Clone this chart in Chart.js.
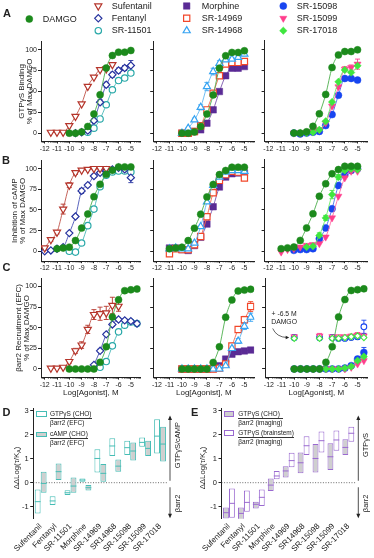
<!DOCTYPE html>
<html>
<head>
<meta charset="utf-8">
<title>Agonist bias at MOR</title>
<script src="https://cdn.jsdelivr.net/npm/chart.js@4.4.0/dist/chart.umd.min.js"></script>
<style>
  html, body { margin: 0; padding: 0; background: #fff; }
  #fig { position: relative; width: 374px; height: 558px; overflow: hidden;
         font-family: "Liberation Sans", Arial, sans-serif; color: #222; }
  #fig canvas { position: absolute; }
  .txt { position: absolute; white-space: nowrap; line-height: 1; }
  .leg { font-size: 9px; }
  .letter { font-weight: bold; font-size: 11px; line-height: 11px; }
  .frac { position: absolute; font-size: 6.5px; line-height: 8px; white-space: nowrap; }
  .frac .n { border-bottom: 0.7px solid #333; }
  .box { position: absolute; box-sizing: border-box; }
</style>
</head>
<body>
<div id="fig">
  <div class="txt letter" style="left:3px;top:8px">A</div>
  <div class="txt letter" style="left:2px;top:154.7px">B</div>
  <div class="txt letter" style="left:2.5px;top:261.5px">C</div>
  <div class="txt letter" style="left:2.5px;top:407px">D</div>
  <div class="txt letter" style="left:191px;top:407px">E</div>

  <div class="txt leg" style="left:42.7px;top:14.6px">DAMGO</div>
  <div class="txt leg" style="left:111.7px;top:1.6px">Sufentanil</div>
  <div class="txt leg" style="left:111.7px;top:13.9px">Fentanyl</div>
  <div class="txt leg" style="left:111.7px;top:26.3px">SR-11501</div>
  <div class="txt leg" style="left:201.7px;top:1.6px">Morphine</div>
  <div class="txt leg" style="left:201.7px;top:13.9px">SR-14969</div>
  <div class="txt leg" style="left:201.7px;top:26.3px">SR-14968</div>
  <div class="txt leg" style="left:296.7px;top:1.6px">SR-15098</div>
  <div class="txt leg" style="left:296.7px;top:13.9px">SR-15099</div>
  <div class="txt leg" style="left:296.7px;top:26.3px">SR-17018</div>

  <!-- D legend -->
  <div class="box" style="left:36px;top:411px;width:10.7px;height:5.7px;border:1px solid #45bdb5;background:#fff"></div>
  <div class="frac" style="left:50px;top:410px"><div class="n">GTPγS (CHO)</div><div>βarr2 (EFC)</div></div>
  <div class="box" style="left:36px;top:431.7px;width:10.7px;height:5.7px;border:1px solid #45bdb5;background:#cfcfcf"></div>
  <div class="frac" style="left:50px;top:430px"><div class="n">cAMP (CHO)</div><div>βarr2 (EFC)</div></div>

  <!-- E legend -->
  <div class="box" style="left:224.3px;top:410.7px;width:10px;height:6px;border:1px solid #9a6ad0;background:#cfcfcf"></div>
  <div class="frac" style="left:238.3px;top:410px"><div class="n">GTPγS (CHO)</div><div>βarr2 (imaging)</div></div>
  <div class="box" style="left:224.3px;top:430px;width:10px;height:6px;border:1px solid #9a6ad0;background:#fff"></div>
  <div class="frac" style="left:238.3px;top:429px"><div class="n">GTPγS (brainstem)</div><div>βarr2 (imaging)</div></div>
</div>

<script>
// ---------- data (log molar doses and % of max DAMGO) ----------
// row A: [35S]GTPγS binding
var doseA_std   = [-10, -9.5, -9, -8.5, -8, -7.5, -7, -6.5, -6, -5.5, -5];
var doseA_suf   = [-11.5, -11, -10.5, -10, -9.5, -9, -8.5, -8, -7.5, -7, -6.5];
var doseA_fen   = [-9.5, -9, -8.5, -8, -7.5, -7, -6.5, -6, -5.5, -5];
var doseA_11501 = [-8.5, -8, -7.5, -7, -6.5, -6, -5.5, -5];
var gtpDamgo = [0, 0, 1.5, 8, 23, 46, 78, 93, 97, 97, 99];
var gtpSuf   = [1, 1, 1, 9, 20, 35, 56, 67, 76, 77, 82];
var gtpFen   = [0, 1, 3, 15, 37, 58, 70, 75, 78, 81];
var gtp11501 = [1, 6, 17, 34, 52, 63, 66, 72];
var gtpMorph = [0, 0, 2, 4, 12, 28, 50, 69, 78, 78, 80];
var gtp14969 = [0, 0, 2, 9, 28, 48, 69, 83, 85, 85, 86];
var gtp14968 = [0, 6, 16, 31, 56, 74, 84, 88, 89, 91, 95];
var gtp15098 = [0, -1, 0, 1, 2, 9, 22, 45, 65, 65, 63];
var gtp15099 = [0, 0, 1, 2, 4, 12, 32, 55, 76, 78, 82];
var gtp17018 = [0, 0, 0, 1, 4, 14, 37, 61, 75, 72, 80];
var errA_fen   = [0, 0, 0, 2, 3, 3, 3, 3, 3, 6];
var errA_14968 = [0, 1, 2, 3, 5, 4, 3, 2, 2, 2, 2];
var errA_15099 = [0, 0, 0, 0, 0, 1, 2, 2, 3, 3, 6];

// row B: inhibition of cAMP
var doseB_std = [-11, -10.5, -10, -9.5, -9, -8.5, -8, -7.5, -7, -6.5, -6, -5.5, -5];
var doseB_10  = [-10, -9.5, -9, -8.5, -8, -7.5, -7, -6.5, -6, -5.5, -5];
var doseB_9   = [-9, -8.5, -8, -7.5, -7, -6.5, -6, -5.5, -5];
var doseB_suf = [-12, -11.5, -11, -10.5, -10, -9.5, -9, -8.5, -8, -7.5, -7];
var doseB_fen = [-12, -11.5, -11, -10.5, -10, -9.5, -9, -8.5, -8, -7.5, -7, -6.5, -6, -5.5, -5];
var campDamgo = [3, 4, 5, 13, 28, 45, 66, 81, 93, 98, 102, 102, 102];
var campSuf   = [4, 14, 23, 51, 80, 95, 98, 99, 100, 100, 100];
var campFen   = [0, 1, 3, 5, 22, 42, 73, 80, 91, 95, 98, 99, 101, 99, 89];
var camp11501 = [0, -1, 10, 31, 51, 78, 92, 96, 97, 97, 96];
var campMorph = [4, 4, 2, 1, 7, 17, 33, 54, 78, 90, 94, 95, 95];
var camp14969 = [-3, 3, 2, 2, 8, 18, 42, 71, 86, 93, 97, 96, 89];
var camp14968 = [3, 4, 3, 3, 10, 30, 60, 80, 90, 96, 98, 98, 97];
var camp15098 = [1, 2, 2, 3, 15, 28, 51, 79, 92, 97, 99];
var camp15099 = [-1, 2, 3, 5, 7, 8, 9, 17, 40, 66, 88, 96, 96];
var camp17018 = [5, 6, 19, 40, 68, 89, 97, 99, 98];
var errB_suf = [1, 2, 2, 6, 3, 2, 1, 1, 1, 1, 1];
var errB_fen = [0, 0, 0, 0, 1, 2, 3, 2, 2, 2, 2, 2, 2, 2, 6];
var errB_17018 = [0, 0, 3, 3, 5, 3, 2, 2, 2];

// row C: βarr2 recruitment (EFC)
var doseC_std   = [-10, -9.5, -9, -8.5, -8, -7.5, -7, -6.5, -6, -5.5, -5, -4.5];
var doseC_suf   = [-11.5, -11, -10.5, -10, -9.5, -9, -8.5, -8, -7.5, -7, -6.5, -6];
var doseC_fen   = [-8, -7.5, -7, -6.5, -6, -5.5, -5, -4.5];
var doseC_11501 = [-7.5, -7, -6.5, -6, -5.5, -5, -4.5];
var doseC_plus  = [-10, -8, -7, -6.5, -6, -5.5, -5, -4.5];
var barrDamgo = [0, 0, 0, 0, 0, 8, 27, 63, 84, 95, 96, 97];
var barrSuf   = [1, 1, 2, 9, 22, 29, 48, 66, 67, 68, 77, 76];
var barrFen   = [5, 22, 42, 54, 60, 59, 58, 55];
var barr11501 = [2, 9, 28, 45, 53, 57, 55];
var barrMorph = [0, 0, 0, 0, 0, 0.5, 4, 12, 18, 21, 22, 23];
var barr14969 = [0, 0, 0, 0, 0, 0, 1, 6, 28, 48, 60, 76];
var barr14968 = [0, 0, 0, 0, 0, 0, 0, 4, 25, 34, 52, 63];
var barr15098 = [0, 0, 0, 0, 0, 0, 0, 0, 1, 4, 12, 20];
var barr15099 = [0, 0, 0, 0, 0, 0, 0, 0, 0, 2, 6, 10];
var barr17018 = [0, 0, 0, 0, 0, 0, 0, 0, 1, 3, 10, 15];
var barrPlus15098 = [38, 38, 38, 37, 37, 38, 39, 51];
var barrPlus15099 = [39, 40, 39, 39, 39, 40, 41, 40];
var barrPlus17018 = [37, 37, 37, 37, 38, 39, 40, 38];
var errC_suf   = [0, 0, 0, 2, 3, 4, 5, 6, 8, 8, 10, 6];
var errC_fen   = [1, 2, 2, 2, 2, 2, 2, 2];
var errC_14969 = [0, 0, 0, 0, 0, 0, 0, 1, 3, 3, 4, 6];
var errC_14968 = [0, 0, 0, 0, 0, 0, 0, 0, 3, 3, 4, 5];
var errC_15098 = [0, 0, 0, 0, 0, 0, 0, 0, 1, 2, 3, 6];
var errC_plus15098 = [3, 3, 3, 2, 2, 2, 3, 8];
var errC_plus15099 = [2, 3, 2, 2, 2, 2, 3, 3];

var xTickVals = [-12, -11, -10, -9, -8, -7, -6, -5];
var yTickVals = [0, 25, 50, 75, 100];

// panels D/E: ΔΔLog(τ/KA) ranges (low, high) and centre line
var ratioCats = ['Sufentanil', 'Fentanyl', 'SR-11501', 'Morphine', 'SR-14969', 'SR14968', 'SR-15098', 'SR-15099', 'SR-17018'];
var dGtpLow   = [-1.28, -0.93, -0.51, 0.04, 0.42, 1.11, 1.15, 1.50, 1.22];
var dGtpHigh  = [-0.28, -0.56, -0.31, 0.18, 1.39, 1.85, 1.75, 1.88, 2.64];
var dGtpMid   = [-0.79, -0.76, -0.42, 0.11, 1.01, 1.53, 1.46, 1.68, 1.94];
var dCampLow  = [-0.42, 0.11, -0.42, -0.33, 0.04, 0.46, 0.92, 1.11, 0.88];
var dCampHigh = [0.46, 0.80, 0.22, -0.10, 0.78, 0.97, 1.68, 1.75, 2.33];
var dCampMid  = [-0.03, 0.46, -0.14, -0.21, 0.39, 0.69, 1.32, 1.43, 1.61];
var eChoLow   = [-1.49, -1.56, -1.07, -0.35, 0.22, 0.39, 0.42, 0.53, 1.15];
var eChoHigh  = [-1.03, -1.03, -0.79, 0.18, 0.69, 1.26, 1.61, 1.64, 1.81];
var eChoMid   = [-1.25, -1.28, -0.90, -0.10, 0.49, 0.83, 1.01, 1.08, 1.47];
var eBrLow    = [-1.46, -1.21, -0.97, 0.14, 0.64, 1.15, 1.26, 1.33, 1.71];
var eBrHigh   = [-0.24, -0.33, -0.28, 0.49, 1.25, 1.94, 2.13, 2.17, 2.33];
var eBrMid    = [-0.86, -0.82, -0.61, 0.28, 0.92, 1.54, 1.75, 1.78, 2.06];

// ---------- styles ----------
var FONT = '"Liberation Sans", Arial, sans-serif';
var INK = '#222';
var STY = {
  damgo:   { color: '#1c8a1c', line: '#4caf4c', style: 'circle',   fill: true,  r: 3.5, order: 0 },
  suf:     { color: '#b5352b', line: '#c0544a', style: 'triangle', rot: 180, fill: false, r: 4.1, order: 1 },
  fen:     { color: '#27339f', line: '#4652b5', style: 'rectRot',  fill: false, r: 3.6, order: 2 },
  sr11501: { color: '#2aa9a9', line: '#47b8b8', style: 'circle',   fill: false, r: 3.2, order: 3 },
  morph:   { color: '#5a2b95', line: '#7a55ad', style: 'rect',     fill: true,  r: 4.6, order: 3 },
  sr14969: { color: '#f2472a', line: '#f26a52', style: 'rect',     fill: false, r: 4.4, order: 2 },
  sr14968: { color: '#35a3f2', line: '#5fb6f2', style: 'triangle', fill: false, r: 4.1, order: 1 },
  sr15098: { color: '#1745f0', line: '#4a6ff0', style: 'circle',   fill: true,  r: 3.5, order: 3 },
  sr15099: { color: '#ff3d8c', line: '#ff6aa6', style: 'triangle', rot: 180, fill: true, r: 4.1, order: 2 },
  sr17018: { color: '#3fe63f', line: '#6aeb6a', style: 'rectRot',  fill: true,  r: 3.7, order: 1 }
};

var fig = document.getElementById('fig');
function addCanvas(left, top, w, h) {
  var c = document.createElement('canvas');
  c.width = w; c.height = h;
  c.style.left = left + 'px'; c.style.top = top + 'px';
  c.style.width = w + 'px'; c.style.height = h + 'px';
  fig.insertBefore(c, fig.firstChild);
  return c;
}

function series(key, xs, ys, extra) {
  var s = STY[key];
  var d = {
    label: key,
    data: xs.map(function (x, i) { return { x: x, y: ys[i] }; }),
    showLine: true,
    borderColor: s.line,
    borderWidth: 0.9,
    cubicInterpolationMode: 'monotone',
    pointStyle: s.style,
    pointRotation: s.rot || 0,
    pointRadius: s.r,
    pointBorderColor: s.color,
    pointBackgroundColor: s.fill ? s.color : '#fff',
    pointBorderWidth: s.fill ? 0.5 : 1.2,
    order: s.order
  };
  return Object.assign(d, extra || {});
}

// ---------- legend markers (top) ----------
function drawMarker(ctx, s, x, y) {
  var r = s.r;
  ctx.save();
  ctx.translate(x, y);
  ctx.rotate((s.rot || 0) * Math.PI / 180);
  ctx.beginPath();
  if (s.style === 'circle') {
    ctx.arc(0, 0, r, 0, Math.PI * 2);
  } else if (s.style === 'rect') {
    var h = r * Math.SQRT1_2;
    ctx.rect(-h, -h, 2 * h, 2 * h);
  } else if (s.style === 'rectRot') {
    ctx.moveTo(0, -r); ctx.lineTo(r, 0); ctx.lineTo(0, r); ctx.lineTo(-r, 0); ctx.closePath();
  } else {
    for (var k = 0; k < 3; k++) {
      var a = k * 2 * Math.PI / 3;
      if (k === 0) ctx.moveTo(Math.sin(a) * r, -Math.cos(a) * r);
      else ctx.lineTo(Math.sin(a) * r, -Math.cos(a) * r);
    }
    ctx.closePath();
  }
  ctx.fillStyle = s.fill ? s.color : '#fff';
  ctx.fill();
  ctx.strokeStyle = s.color;
  ctx.lineWidth = s.fill ? 0.5 : 1.2;
  ctx.stroke();
  ctx.restore();
}
var legCanvas = addCanvas(0, 0, 374, 36);
var lctx = legCanvas.getContext('2d');
[['damgo', 29.3, 19],
 ['suf', 98.3, 6], ['fen', 98.3, 18.3], ['sr11501', 98.3, 30.7],
 ['morph', 186.7, 6], ['sr14969', 186.7, 18.3], ['sr14968', 186.7, 30.7],
 ['sr15098', 283.3, 6], ['sr15099', 283.3, 18.3], ['sr17018', 283.3, 30.7]
].forEach(function (m) { drawMarker(lctx, STY[m[0]], m[1], m[2]); });

// ---------- plugins ----------
var minorTicks = {
  id: 'minorTicks',
  afterDraw: function (chart) {
    var x = chart.scales.x, ctx = chart.ctx;
    ctx.save();
    ctx.strokeStyle = INK;
    ctx.lineWidth = 0.6;
    ctx.beginPath();
    for (var d = -13; d <= -4; d++) {
      for (var k = 2; k <= 9; k++) {
        var v = d + Math.log10(k);
        if (v < x.min || v > x.max) continue;
        var px = x.getPixelForValue(v);
        ctx.moveTo(px, x.top);
        ctx.lineTo(px, x.top + 1.3);
      }
    }
    ctx.stroke();
    ctx.restore();
  }
};

// SEM whiskers for datasets that carry an errs array
var errorBars = {
  id: 'errorBars',
  beforeDatasetsDraw: function (chart) {
    var ctx = chart.ctx, y = chart.scales.y;
    chart.data.datasets.forEach(function (d, i) {
      if (!d.errs) return;
      var meta = chart.getDatasetMeta(i);
      ctx.save();
      ctx.strokeStyle = d.pointBorderColor;
      ctx.lineWidth = 0.9;
      meta.data.forEach(function (pt, j) {
        var e = d.errs[j];
        if (!e) return;
        var v = d.data[j].y;
        var yt = y.getPixelForValue(v + e), yb = y.getPixelForValue(v - e);
        ctx.beginPath();
        ctx.moveTo(pt.x, yt); ctx.lineTo(pt.x, yb);
        ctx.moveTo(pt.x - 2.5, yt); ctx.lineTo(pt.x + 2.5, yt);
        ctx.moveTo(pt.x - 2.5, yb); ctx.lineTo(pt.x + 2.5, yb);
        ctx.stroke();
      });
      ctx.restore();
    });
  }
};

var damgoNote = {
  id: 'damgoNote',
  afterDraw: function (chart) {
    var ctx = chart.ctx, x = chart.scales.x, y = chart.scales.y;
    ctx.save();
    ctx.fillStyle = INK;
    ctx.strokeStyle = INK;
    ctx.font = '6.8px ' + FONT;
    ctx.textAlign = 'center';
    ctx.textBaseline = 'middle';
    ctx.fillText('+ -6.5 M', x.getPixelForValue(-10.8), y.getPixelForValue(66));
    ctx.fillText('DAMGO', x.getPixelForValue(-10.8), y.getPixelForValue(57));
    var x0 = x.getPixelForValue(-11.7), y0 = y.getPixelForValue(49);
    var cx = x.getPixelForValue(-11.4), cy = y.getPixelForValue(38.5);
    var x1 = x.getPixelForValue(-10.4), y1 = y.getPixelForValue(38);
    ctx.lineWidth = 0.7;
    ctx.beginPath();
    ctx.moveTo(x0, y0);
    ctx.quadraticCurveTo(cx, cy, x1 - 2, y1);
    ctx.stroke();
    ctx.beginPath();
    ctx.moveTo(x1, y1);
    ctx.lineTo(x1 - 3.5, y1 - 1.8);
    ctx.lineTo(x1 - 3.5, y1 + 1.8);
    ctx.closePath();
    ctx.fill();
    ctx.restore();
  }
};

// ---------- dose-response panels ----------
var ROWS = {
  A: { top: 36, height: 120, aTop: 40, aBottom: 141.5, yMin: -10, tpad: 17.5, xTitle: false,
       title: ['GTPγS Binding', '% of Max DAMGO'] },
  B: { top: 155, height: 118, aTop: 157.5, aBottom: 261.2, yMin: -12, tpad: 11, xTitle: false,
       title: ['Inhibition of cAMP', '% of Max DAMGO'] },
  C: { top: 273, height: 125, aTop: 275.5, aBottom: 377.6, yMin: -10.5, tpad: 14.3, xTitle: true,
       title: ['βarr2 Recruitment (EFC)', '% of Max DAMGO'] }
};
var COLS = [
  { left: 0,   width: 146, aLeft: 41,    aRight: 143 },
  { left: 146, width: 114, aLeft: 153.2, aRight: 256.2 },
  { left: 260, width: 114, aLeft: 264.2, aRight: 367.7 }
];

function curvePanel(row, col, sets, extraPlugins) {
  var R = ROWS[row], C = COLS[col];
  var cv = addCanvas(C.left, R.top, C.width, R.height);
  var yW = C.aLeft - C.left;
  var xH = R.top + R.height - R.aBottom;
  return new Chart(cv, {
    type: 'scatter',
    data: { datasets: sets },
    options: {
      responsive: false,
      animation: false,
      devicePixelRatio: 1,
      layout: { padding: { top: R.aTop - R.top, right: C.left + C.width - C.aRight, left: 0, bottom: 0 } },
      plugins: { legend: { display: false }, tooltip: { enabled: false } },
      scales: {
        x: {
          type: 'linear', min: -12.3, max: -4.2,
          afterBuildTicks: function (s) { s.ticks = xTickVals.map(function (v) { return { value: v }; }); },
          afterFit: function (s) { s.height = xH; },
          border: { color: INK, width: 1 },
          grid: { drawOnChartArea: false, tickLength: 2, tickColor: INK, tickWidth: 1 },
          ticks: { font: { size: 7, family: FONT }, color: INK, padding: 1, maxRotation: 0, autoSkip: false,
                   callback: function (v) { return String(v); } },
          title: { display: R.xTitle, text: 'Log[Agonist], M', color: INK,
                   font: { size: 8, family: FONT }, padding: { top: 0, bottom: 0 } }
        },
        y: {
          min: R.yMin, max: 110,
          afterBuildTicks: function (s) { s.ticks = yTickVals.map(function (v) { return { value: v }; }); },
          afterFit: function (s) { s.width = yW; },
          border: { color: INK, width: 1 },
          grid: { drawOnChartArea: false, tickLength: 3, tickColor: INK, tickWidth: 1 },
          ticks: { display: col === 0, font: { size: 7, family: FONT }, color: INK, padding: 1 },
          title: { display: col === 0, text: R.title, color: INK,
                   font: { size: 8, family: FONT, lineHeight: 1 }, padding: { top: R.tpad, bottom: 0 } }
        }
      }
    },
    plugins: [minorTicks, errorBars].concat(extraPlugins || [])
  });
}

// row A
curvePanel('A', 0, [
  series('damgo', doseA_std, gtpDamgo),
  series('suf', doseA_suf, gtpSuf),
  series('fen', doseA_fen, gtpFen, { errs: errA_fen }),
  series('sr11501', doseA_11501, gtp11501)
]);
curvePanel('A', 1, [
  series('damgo', doseA_std, gtpDamgo),
  series('morph', doseA_std, gtpMorph),
  series('sr14969', doseA_std, gtp14969),
  series('sr14968', doseA_std, gtp14968, { errs: errA_14968 })
]);
curvePanel('A', 2, [
  series('damgo', doseA_std, gtpDamgo),
  series('sr15098', doseA_std, gtp15098),
  series('sr15099', doseA_std, gtp15099, { errs: errA_15099 }),
  series('sr17018', doseA_std, gtp17018)
]);

// row B
curvePanel('B', 0, [
  series('damgo', doseB_std, campDamgo),
  series('suf', doseB_suf, campSuf, { errs: errB_suf }),
  series('fen', doseB_fen, campFen, { errs: errB_fen }),
  series('sr11501', doseB_10, camp11501)
]);
curvePanel('B', 1, [
  series('damgo', doseB_std, campDamgo),
  series('morph', doseB_std, campMorph),
  series('sr14969', doseB_std, camp14969),
  series('sr14968', doseB_std, camp14968)
]);
curvePanel('B', 2, [
  series('damgo', doseB_std, campDamgo),
  series('sr15098', doseB_10, camp15098),
  series('sr15099', doseB_std, camp15099),
  series('sr17018', doseB_9, camp17018, { errs: errB_17018 })
]);

// row C
curvePanel('C', 0, [
  series('damgo', doseC_std, barrDamgo),
  series('suf', doseC_suf, barrSuf, { errs: errC_suf }),
  series('fen', doseC_fen, barrFen, { errs: errC_fen }),
  series('sr11501', doseC_11501, barr11501)
]);
curvePanel('C', 1, [
  series('damgo', doseC_std, barrDamgo),
  series('morph', doseC_std, barrMorph),
  series('sr14969', doseC_std, barr14969, { errs: errC_14969 }),
  series('sr14968', doseC_std, barr14968, { errs: errC_14968 })
]);
var openPt = { pointBackgroundColor: '#fff', pointBorderWidth: 1.1, showLine: false };
curvePanel('C', 2, [
  series('damgo', doseC_std, barrDamgo),
  series('sr15098', doseC_std, barr15098, { errs: errC_15098 }),
  series('sr15099', doseC_std, barr15099),
  series('sr17018', doseC_std, barr17018),
  series('sr17018', doseC_plus, barrPlus17018, Object.assign({ pointRadius: 3.1 }, openPt)),
  series('sr15099', doseC_plus, barrPlus15099, Object.assign({ pointRadius: 3.4, errs: errC_plus15099 }, openPt)),
  series('sr15098', doseC_plus, barrPlus15098, Object.assign({ pointRadius: 2.9, errs: errC_plus15098 }, openPt))
], [damgoNote]);

// ---------- ratio panels D / E ----------
var midLines = {
  id: 'midLines',
  afterDatasetsDraw: function (chart) {
    var ctx = chart.ctx, y = chart.scales.y;
    chart.data.datasets.forEach(function (d, i) {
      if (!d.mids) return;
      var meta = chart.getDatasetMeta(i);
      ctx.save();
      ctx.strokeStyle = d.borderColor;
      ctx.lineWidth = 1;
      meta.data.forEach(function (bar, j) {
        var p = bar.getProps(['x', 'width'], true);
        var py = y.getPixelForValue(d.mids[j]);
        ctx.beginPath();
        ctx.moveTo(p.x - p.width / 2, py);
        ctx.lineTo(p.x + p.width / 2, py);
        ctx.stroke();
      });
      ctx.restore();
    });
  }
};

var zeroLine = {
  id: 'zeroLine',
  beforeDatasetsDraw: function (chart) {
    var ctx = chart.ctx, a = chart.chartArea, py = chart.scales.y.getPixelForValue(0);
    ctx.save();
    ctx.strokeStyle = '#444';
    ctx.lineWidth = 0.8;
    ctx.setLineDash([1, 1.6]);
    ctx.beginPath();
    ctx.moveTo(a.left, py);
    ctx.lineTo(a.right, py);
    ctx.stroke();
    ctx.restore();
  }
};

function sideNote(upText, downText) {
  return {
    id: 'sideNote',
    afterDraw: function (chart) {
      var ctx = chart.ctx, a = chart.chartArea, y = chart.scales.y;
      var ax = a.right + 2.5, tx = a.right + 10.5;
      ctx.save();
      ctx.strokeStyle = INK;
      ctx.fillStyle = INK;
      ctx.lineWidth = 0.8;
      function seg(v0, v1) {
        var p0 = y.getPixelForValue(v0), p1 = y.getPixelForValue(v1);
        var dir = p1 < p0 ? -1 : 1;
        ctx.beginPath();
        ctx.moveTo(ax, p0);
        ctx.lineTo(ax, p1 - dir * 2);
        ctx.stroke();
        ctx.beginPath();
        ctx.moveTo(ax, p1);
        ctx.lineTo(ax - 2, p1 - dir * 4.5);
        ctx.lineTo(ax + 2, p1 - dir * 4.5);
        ctx.closePath();
        ctx.fill();
      }
      seg(0.08, 2.8);
      seg(-0.19, -1.48);
      ctx.font = '7.5px ' + FONT;
      ctx.textAlign = 'center';
      ctx.textBaseline = 'middle';
      [[upText, 1.57], [downText, -0.86]].forEach(function (t) {
        ctx.save();
        ctx.translate(tx, y.getPixelForValue(t[1]));
        ctx.rotate(-Math.PI / 2);
        ctx.fillText(t[0], 0, 0);
        ctx.restore();
      });
      ctx.restore();
    }
  };
}

function deltaTitle(xCanvas) {
  return {
    id: 'deltaTitle',
    afterDraw: function (chart) {
      var ctx = chart.ctx;
      var big = '7.8px ' + FONT, small = '5.5px ' + FONT;
      var p1 = 'ΔΔLog(τ/K', p2 = 'A', p3 = ')';
      ctx.save();
      ctx.fillStyle = INK;
      ctx.textBaseline = 'middle';
      ctx.textAlign = 'left';
      ctx.font = big;
      var w1 = ctx.measureText(p1).width, w3 = ctx.measureText(p3).width;
      ctx.font = small;
      var w2 = ctx.measureText(p2).width;
      var total = w1 + w2 + w3;
      ctx.translate(xCanvas, 68);
      ctx.rotate(-Math.PI / 2);
      var s = -total / 2;
      ctx.font = big;
      ctx.fillText(p1, s, 0);
      ctx.font = small;
      ctx.fillText(p2, s + w1, 2);
      ctx.font = big;
      ctx.fillText(p3, s + w1 + w2, 0);
      ctx.restore();
    }
  };
}

function boxSet(label, lows, highs, mids, fill, edge) {
  return {
    label: label,
    data: lows.map(function (l, i) { return [l, highs[i]]; }),
    mids: mids,
    backgroundColor: fill,
    borderColor: edge,
    borderWidth: 1,
    borderSkipped: false
  };
}

function ratioPanel(left, width, aLeft, aRight, sets, titleX, upText) {
  var top = 400, height = 158, aTop = 408.3, aBottom = 518.7;
  var cv = addCanvas(left, top, width, height);
  return new Chart(cv, {
    type: 'bar',
    data: { labels: ratioCats, datasets: sets },
    options: {
      responsive: false,
      animation: false,
      devicePixelRatio: 1,
      layout: { padding: { top: aTop - top, right: left + width - aRight, left: 0, bottom: 0 } },
      plugins: { legend: { display: false }, tooltip: { enabled: false } },
      datasets: { bar: { categoryPercentage: 0.8, barPercentage: 0.98 } },
      scales: {
        x: {
          border: { display: false },
          grid: { display: false, drawTicks: false },
          afterFit: function (s) { s.height = top + height - aBottom; },
          ticks: { font: { size: 8, family: FONT }, color: INK, minRotation: 45, maxRotation: 45,
                   padding: 3, autoSkip: false }
        },
        y: {
          min: -1.5, max: 3.1,
          afterBuildTicks: function (s) { s.ticks = [-1, 0, 1, 2, 3].map(function (v) { return { value: v }; }); },
          afterFit: function (s) { s.width = aLeft - left; },
          border: { color: INK, width: 1 },
          grid: { drawOnChartArea: false, tickLength: 3, tickColor: INK, tickWidth: 1 },
          ticks: { font: { size: 7.5, family: FONT }, color: INK, padding: 1.5,
                   callback: function (v) { return String(v); } }
        }
      }
    },
    plugins: [zeroLine, midLines, sideNote(upText, 'βarr2'), deltaTitle(titleX)]
  });
}

ratioPanel(0, 190, 33.2, 167.5, [
  boxSet('GTPγS (CHO) / βarr2 (EFC)', dGtpLow, dGtpHigh, dGtpMid, '#fff', '#45bdb5'),
  boxSet('cAMP (CHO) / βarr2 (EFC)', dCampLow, dCampHigh, dCampMid, '#cfcfcf', '#45bdb5')
], 17.3, 'GTPγS/cAMP');

ratioPanel(185, 189, 221.5, 355.8, [
  boxSet('GTPγS (CHO) / βarr2 (imaging)', eChoLow, eChoHigh, eChoMid, '#cfcfcf', '#9a6ad0'),
  boxSet('GTPγS (brainstem) / βarr2 (imaging)', eBrLow, eBrHigh, eBrMid, '#fff', '#9a6ad0')
], 203 - 185, 'GTPγS');
</script>
</body>
</html>
